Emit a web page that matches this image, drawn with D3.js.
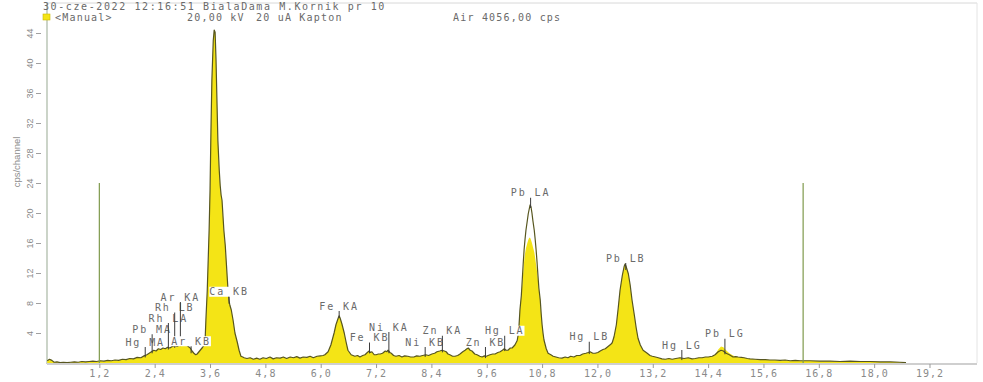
<!DOCTYPE html>
<html>
<head>
<meta charset="utf-8">
<script src="https://cdn.jsdelivr.net/npm/d3@7"></script>
<style>
body{margin:0;background:#fff;}
svg{display:block;}
.mono{font-family:'DejaVu Sans Mono',monospace;}
</style>
</head>
<body>
<svg id="chart" width="983" height="382"></svg>
<script>
// spectrum, keV / counts per channel
var energy = [
  0.07,0.12,0.17,0.22,0.28,0.35,0.42,0.50,0.58,0.66,0.74,0.82,0.90,0.98,1.06,1.14,1.22,1.30,1.38,1.46,1.54,1.62,1.70,1.78,1.86,1.94,2.02,2.10,2.17,2.23,2.28,
  2.33,2.38,2.43,2.48,2.53,2.58,2.63,2.68,2.73,2.78,2.84,2.89,2.95,3.00,3.06,3.11,3.17,3.21,3.25,3.29,3.32,3.36,3.40,3.44,3.47,3.49,
  3.51,3.54,3.56,3.58,3.60,3.62,3.64,3.67,3.69,3.71,3.73,3.75,3.77,3.80,3.82,3.84,3.86,3.88,3.90,3.93,3.95,3.97,3.99,4.01,4.03,4.06,4.10,4.14,4.19,4.23,4.27,4.31,4.34,
  4.40,4.47,4.54,4.61,4.68,4.75,4.82,4.90,4.97,5.04,5.12,5.19,5.26,5.34,5.41,5.48,5.55,5.62,5.70,5.77,5.84,5.92,5.99,6.05,6.09,
  6.16,6.22,6.29,6.33,6.38,6.40,6.42,6.46,6.51,6.55,
  6.59,6.66,6.74,6.80,6.85,6.91,6.96,7.01,7.05,7.08,
  7.11,7.16,7.20,7.25,7.29,7.34,7.40,7.43,7.46,7.50,
  7.53,7.58,7.63,7.70,7.76,7.82,7.89,7.95,8.02,8.08,
  8.15,8.21,8.28,8.34,8.41,8.47,8.52,8.58,8.63,8.68,
  8.72,8.76,8.80,8.86,8.91,8.97,9.02,9.08,9.13,9.17,
  9.20,9.24,9.28,9.34,9.39,9.45,9.50,9.55,9.59,9.63,
  9.67,9.73,9.78,9.84,9.89,9.94,9.98,10.02,10.06,10.11,
  10.15,10.18,10.21,
  10.26,10.28,10.30,10.32,10.35,10.37,10.39,10.41,10.43,10.45,
  10.48,10.50,10.52,10.54,10.56,10.58,10.60,10.63,10.65,10.67,
  10.69,10.71,10.73,10.76,10.78,10.80,10.82,10.84,10.89,10.93,
  10.99,11.04,11.10,11.16,11.23,11.30,11.36,11.42,11.49,11.55,
  11.62,11.68,11.75,11.80,11.84,11.90,11.95,12.01,12.06,12.12,
  12.17,12.21,12.25,12.29,12.32,
  12.36,12.41,12.45,12.49,12.54,12.58,12.60,12.62,12.67,12.71,
  12.75,12.80,12.84,12.88,12.93,12.99,13.08,13.14,13.19,13.26,
  13.32,13.40,13.47,13.55,13.62,13.70,13.79,13.88,13.97,14.05,
  14.12,14.20,14.27,14.34,14.40,
  14.49,14.55,14.62,14.68,14.73,14.79,14.86,14.94,15.00,15.05,
  15.12,15.18,15.25,15.31,15.42,15.53,15.64,15.74,15.85,15.96,
  16.07,16.18,16.29,16.40,16.61,16.83,17.04,17.26,17.48,17.70,
  17.91,18.13,18.35,18.56,18.69
];
var counts = [
  0.3,0.5,0.35,0.1,0.15,0.05,0.1,0.05,0.1,0.15,0.1,0.2,0.15,0.2,0.25,0.2,0.3,0.25,0.35,0.3,0.4,0.35,0.5,0.45,0.6,0.55,0.75,0.7,0.95,1.1,1.3,
  1.5,1.7,1.6,1.9,1.8,2.0,1.9,2.1,2.0,2.2,2.3,2.2,2.5,2.6,2.4,2.3,2.0,1.6,1.3,1.1,1.2,1.5,1.8,2.1,2.4,2.5,
  5.7,9.7,13.7,17.7,23.0,31.0,37.7,43.0,44.4,44.1,40.4,35.0,29.7,25.7,23.7,22.4,21.7,19.7,17.7,15.7,13.7,11.7,9.7,8.4,7.7,7.1,5.7,4.0,2.8,1.7,0.9,0.8,0.7,
  0.6,0.7,0.5,0.65,0.5,0.7,0.6,0.8,0.55,0.7,0.65,0.8,0.6,0.8,0.7,0.85,0.65,0.8,0.75,0.9,0.7,0.9,0.95,1.0,1.1,
  1.5,2.4,4.0,5.1,6.0,6.3,6.0,5.2,4.0,2.8,
  1.7,1.1,0.9,1.0,0.8,1.0,1.1,1.4,1.6,1.4,
  1.5,1.1,1.1,1.2,1.2,1.3,1.6,1.5,1.7,1.4,
  1.3,1.0,0.9,1.0,0.8,0.95,0.9,0.8,0.8,0.95,
  0.9,1.0,1.1,1.0,1.2,1.3,1.5,1.6,1.7,1.6,
  1.5,1.2,1.1,0.9,0.9,1.0,1.2,1.5,1.7,1.9,
  2.0,1.7,1.6,1.2,1.1,0.9,0.8,0.95,0.9,1.0,
  1.1,1.2,1.2,1.4,1.5,1.7,1.9,1.7,1.7,2.0,
  2.0,2.2,2.4,
  3.0,3.7,5.0,7.1,9.0,11.1,13.2,15.1,16.5,17.7,
  19.0,19.9,20.5,21.1,20.8,20.0,19.0,17.7,16.5,15.1,
  13.5,11.7,10.0,8.4,6.6,5.1,4.0,3.1,1.9,1.3,
  1.1,0.9,0.8,0.7,0.65,0.8,0.7,0.9,0.8,1.0,
  1.0,1.2,1.3,1.4,1.5,1.3,1.3,1.4,1.6,1.8,
  1.9,2.1,2.3,2.5,2.7,
  3.5,5.1,7.3,9.7,11.7,12.9,13.2,12.9,11.9,10.4,
  8.4,6.4,4.7,3.3,2.4,1.7,1.3,1.0,0.9,0.8,
  0.7,0.55,0.5,0.6,0.5,0.6,0.7,0.6,0.7,0.55,
  0.6,0.7,0.7,0.8,0.8,
  0.9,1.1,1.5,1.7,1.6,1.3,1.1,0.8,0.85,0.8,
  0.75,0.7,0.6,0.55,0.5,0.45,0.45,0.4,0.4,0.35,
  0.4,0.3,0.35,0.3,0.3,0.25,0.25,0.2,0.25,0.2,
  0.2,0.15,0.15,0.1,0.05
];
// yellow fill differs from the measured line here
var fitEnergy = [10.37,10.39,10.41,10.43,10.45,10.48,10.50,10.52,10.54,10.56,10.58,10.60,10.63,10.65,10.67,10.69,10.71,10.73,
                 14.62,14.68,14.73,14.79,14.86,14.94];
var fitCounts = [10.4,12.0,13.5,14.6,15.3,16.0,16.4,16.7,16.7,16.4,16.0,15.5,14.8,14.0,13.1,12.2,11.1,9.8,
                 1.8,2.2,2.1,1.7,1.3,1.0];
// peak identification labels
var labelNames  = ['Hg MA','Pb MA','Rh LA','Rh LB','Ar KA','Ar KB','Ca KB','Fe KA','Fe KB','Ni KA',
                   'Ni KB','Zn KA','Zn KB','Hg LA','Pb LA','Hg LB','Pb LB','Hg LG','Pb LG'];
var labelEnergy = [2.195,2.345,2.697,2.834,2.957,3.19,4.013,6.40,7.058,7.478,
                   8.265,8.638,9.572,9.989,10.551,11.823,12.614,13.83,14.764];
var labelLevel  = [2.8,4.5,6.0,7.4,8.8,2.9,9.5,7.6,3.4,4.8,
                   2.8,4.3,2.8,4.3,22.7,3.5,14.0,2.4,3.9];
var roiEnergy = [1.2,16.46];
var roiLevel  = 24;
var xTicks = [1.2,2.4,3.6,4.8,6.0,7.2,8.4,9.6,10.8,12.0,13.2,14.4,15.6,16.8,18.0,19.2];
var yTicks = [4,8,12,16,20,24,28,32,36,40,44];
var header1 = '30-cze-2022 12:16:51 BialaDama M.Kornik pr 10';
var header2 = [['<Manual>',55],['20,00 kV',187],['20 uA Kapton',256],['Air 4056,00 cps',453]];

var svg = d3.select('#chart');
var pl = {l:47, r:977, t:3, b:363};
var x = d3.scaleLinear().domain([0,20.23]).range([44,977]);
var y = d3.scaleLinear().domain([0,48]).range([pl.b,pl.t]);

var n = Math.min(energy.length,counts.length);
var pts = d3.range(n).map(function(i){return {e:energy[i],c:counts[i]};});
var fit = new Map(fitEnergy.map(function(e,i){return [e,fitCounts[i]];}));

// frame
svg.append('line').attr('x1',pl.l).attr('x2',pl.r).attr('y1',pl.t).attr('y2',pl.t)
  .attr('stroke','#d8d8d8');
svg.append('line').attr('x1',pl.r).attr('x2',pl.r).attr('y1',pl.t).attr('y2',pl.b)
  .attr('stroke','#e4e4e4');
svg.append('line').attr('x1',pl.l).attr('x2',pl.l).attr('y1',pl.t).attr('y2',pl.b+1)
  .attr('stroke','#a9b8a4').attr('stroke-width',1.2);

// fill + line
var area = d3.area().x(function(d){return x(d.e);}).y0(pl.b)
  .y1(function(d){return y(fit.has(d.e) ? fit.get(d.e) : d.c);});
svg.append('path').datum(pts).attr('d',area).attr('fill','#f4e416');
var line = d3.line().x(function(d){return x(d.e);}).y(function(d){return y(d.c);});
svg.append('path').datum(pts).attr('d',line).attr('fill','none')
  .attr('stroke','#57561f').attr('stroke-width',1.2).attr('stroke-linejoin','round');

// ROI markers
svg.append('g').selectAll('line').data(roiEnergy).enter().append('line')
  .attr('x1',function(d){return x(d);}).attr('x2',function(d){return x(d);})
  .attr('y1',y(roiLevel)).attr('y2',pl.b)
  .attr('stroke','#7f9a4c').attr('stroke-width',1.2);

// x axis
svg.append('line').attr('x1',pl.l).attr('x2',pl.r).attr('y1',pl.b+1).attr('y2',pl.b+1)
  .attr('stroke','#cfcfcf').attr('stroke-width',2);
var xAxis = svg.append('g').attr('transform','translate(0,'+(pl.b+1)+')')
  .call(d3.axisBottom(x).tickValues(xTicks).tickSize(4).tickPadding(2)
    .tickFormat(function(d){return d3.format('.1f')(d).replace('.',',');}));
xAxis.select('.domain').remove();
xAxis.selectAll('line').attr('stroke','#9a9a9a');
xAxis.selectAll('text').attr('class','mono').attr('fill','#8a8a8a')
  .style('font-size','10px').style('letter-spacing','1px');

// y axis
var yAxis = svg.append('g').attr('transform','translate(41,0)')
  .call(d3.axisLeft(y).tickValues(yTicks).tickSize(5).tickFormat(d3.format('d')));
yAxis.select('.domain').remove();
yAxis.selectAll('line').attr('stroke','#a0a0a0');
yAxis.selectAll('text').attr('transform','rotate(-90)').attr('x',0).attr('y',-11).attr('dy','0.35em')
  .attr('text-anchor','middle').attr('fill','#8a8a8a')
  .style('font-family','Liberation Sans Narrow, Liberation Sans, sans-serif').style('font-size','9px');
svg.append('text').attr('transform','translate(17,162) rotate(-90)')
  .attr('text-anchor','middle').attr('dy','0.35em').attr('fill','#8a8a8a')
  .style('font-family','Liberation Sans Narrow, Liberation Sans, sans-serif').style('font-size','9.5px')
  .text('cps/channel');

// peak labels
function valueAt(e){
  var i = d3.bisector(function(d){return d.e;}).left(pts,e);
  if (i <= 0) return pts[0].c;
  if (i >= pts.length) return pts[pts.length-1].c;
  var a = pts[i-1], b = pts[i];
  return a.c + (b.c-a.c)*(e-a.e)/(b.e-a.e);
}
var lab = svg.append('g');
labelNames.forEach(function(name,i){
  var cx = x(labelEnergy[i]), cy = y(labelLevel[i]);
  var g = lab.append('g');
  var t = g.append('text').attr('class','mono').attr('x',cx).attr('y',cy).attr('dy','0.35em')
    .attr('text-anchor','middle').attr('fill','#6a6a6a')
    .style('font-size','10px').style('letter-spacing','1.9px').text(name);
  var bb = t.node().getBBox();
  g.insert('rect','text').attr('x',bb.x).attr('y',cy-5).attr('width',bb.width).attr('height',10)
    .attr('fill','#fff');
  var yEnd = Math.max(y(valueAt(labelEnergy[i]))+2, cy+12);
  lab.append('line').attr('x1',cx).attr('x2',cx).attr('y1',cy+5).attr('y2',Math.min(yEnd,pl.b-1))
    .attr('stroke','#3c3c3c').attr('stroke-width',1);
});

// header
svg.append('text').attr('class','mono').attr('x',43).attr('y',6).attr('dy','0.35em')
  .attr('fill','#6a6a6a').style('font-size','10px').style('letter-spacing','1.6px').text(header1);
svg.append('rect').attr('x',43).attr('y',14).attr('width',7).attr('height',6)
  .attr('fill','#f4e416').attr('stroke','#c9b900').attr('stroke-width',0.6);
svg.append('g').selectAll('text').data(header2).enter().append('text')
  .attr('class','mono').attr('x',function(d){return d[1];}).attr('y',17.5).attr('dy','0.35em')
  .attr('fill','#6a6a6a').style('font-size','10px').style('letter-spacing','1.2px')
  .text(function(d){return d[0];});
</script>
</body>
</html>
